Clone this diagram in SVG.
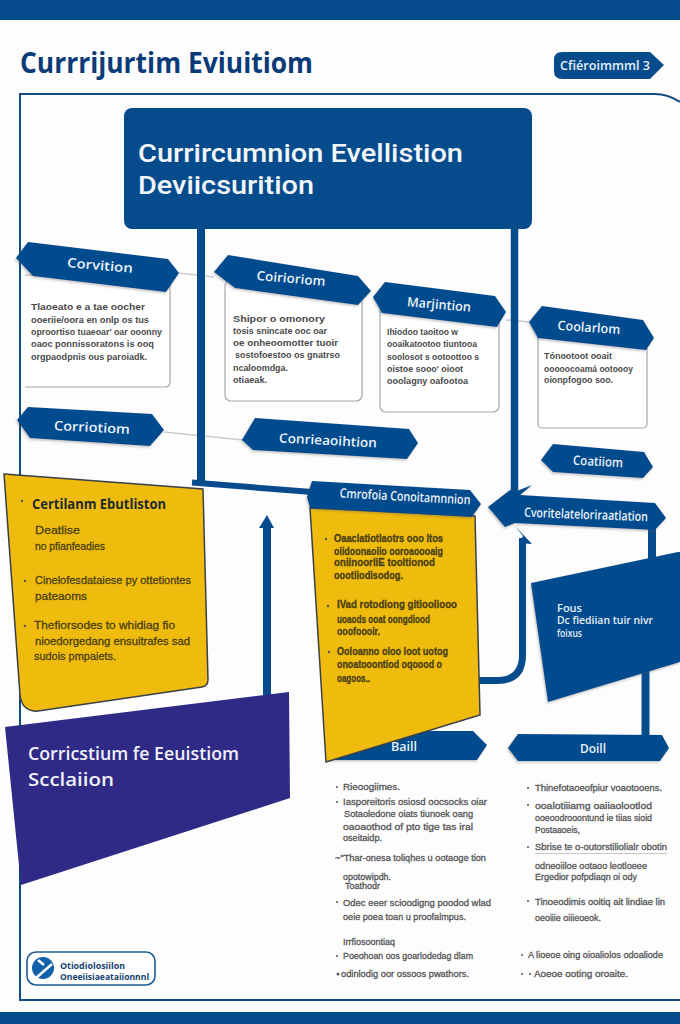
<svg xmlns="http://www.w3.org/2000/svg" width="680" height="1024" viewBox="0 0 680 1024">
<defs>
<filter id="sh" x="-10%" y="-20%" width="120%" height="150%"><feDropShadow dx="-1" dy="1.500" stdDeviation="1" flood-color="#555" flood-opacity=".35"/></filter>
</defs>
<style>
text{font-family:"Open Sans","Liberation Sans",Arial,sans-serif}
.b{fill:#064c8d;filter:url(#sh)}
.card{fill:#fff;stroke:#a4a7ab;stroke-width:1.200}
.bl{fill:#eaf1f8;font-weight:600;font-size:13px;text-anchor:middle}
.t{fill:#4a4a4a;font-weight:600;font-size:9.500px;font-family:"Liberation Sans",Arial,sans-serif}
.y{fill:#4a3f14;font-weight:600;font-size:10px;font-family:"Liberation Sans",Arial,sans-serif;stroke:#4a3f14;stroke-width:.3}
.yl{fill:#4a3f14;font-size:11.500px;font-family:"Liberation Sans",Arial,sans-serif;stroke:#4a3f14;stroke-width:.3}
.li{fill:#555;font-size:9.500px;font-family:"Liberation Sans",Arial,sans-serif;stroke:#555;stroke-width:.3}
.dot{fill:#555}
.line{fill:none;stroke:#064c8d}
.gray{fill:none;stroke:#c9cbce;stroke-width:1.600}
.yel{fill:#efbb0c;stroke:#3a4048;stroke-width:1.500}
.hd{font-family:Roboto,"Liberation Sans",Arial,sans-serif;font-size:26.500px;font-weight:500;fill:#f2f6fa}
</style>
<rect width="680" height="1024" fill="#fdfdfe"/>
<rect width="680" height="20" fill="#064c8d"/>
<rect y="1012" width="680" height="12" fill="#064c8d"/>
<path id="frame" d="M680,102Q668,94 655,94L20,94L20,1000L680,1000" fill="none" stroke="#124a80" stroke-width="2"/>
<text x="20" y="73" font-size="29" font-weight="700" fill="#0a3a78" textLength="293" lengthAdjust="spacingAndGlyphs">Currrijurtim Eviuitiom</text>

<g id="connectors">
<path class="gray" d="M179,273L214,277"/>
<path class="gray" d="M506,320L529,322"/>
<path class="gray" d="M164,432L243,440"/>
<path class="line" stroke-width="8" d="M201,229V484"/>
<path class="line" stroke-width="7.500" d="M514.500,229V495"/>
<path class="line" stroke-width="6" d="M192,482.500L312,492"/>
<path class="line" stroke-width="8" d="M267,695V526"/>
<polygon points="259,528 267,515 274,528" fill="#064c8d"/>
<path class="line" stroke-width="7" d="M478,680.500H498Q522.500,680 522.500,655V538"/>
<polygon points="515,526 532,544 519,543 523,536" fill="#064c8d"/>
<path class="line" stroke-width="8" d="M652,525V565"/>
<path class="line" stroke-width="8" d="M645.500,660V737"/>
</g>

<g id="tag"><path d="M562,52H650L664,65L650,79H562Q554,79 554,71V60Q554,52 562,52Z" fill="#064c8d"/><text x="560" y="70" font-size="12.500" font-weight="600" fill="#e8f0f8" textLength="90" lengthAdjust="spacingAndGlyphs">Cfiéroimmml 3</text></g>

<g id="main"><rect x="124" y="108" width="408" height="121" rx="8" fill="#064c8d"/>
<text class="hd" x="138" y="162" textLength="325" lengthAdjust="spacingAndGlyphs">Currircumnion Evellistion</text>
<text class="hd" x="138" y="194" textLength="176" lengthAdjust="spacingAndGlyphs">Deviicsurition</text></g>

<g id="n1"><path class="card" d="M25,275H170V382Q170,387 165,387H25"/>
<polygon class="b" points="16,258 28,242 168,259 179,273 166,292 33,276"/>
<text class="bl" x="100" y="270" transform="rotate(5 100 265)" textLength="66" lengthAdjust="spacingAndGlyphs">Corvition</text>
<text class="t" x="31" y="310" textLength="114" lengthAdjust="spacingAndGlyphs">Tlaoeato e a tae oocher</text>
<text class="t" x="31" y="323" textLength="118" lengthAdjust="spacingAndGlyphs">ooeriie/oora en onlp os tus</text>
<text class="t" x="31" y="335" textLength="131" lengthAdjust="spacingAndGlyphs">oproortiso tuaeoar' oar ooonny</text>
<text class="t" x="31" y="347" textLength="123" lengthAdjust="spacingAndGlyphs">oaoc ponnissoratons is ooq</text>
<text class="t" x="31" y="360" textLength="116" lengthAdjust="spacingAndGlyphs">orgpaodpnis ous paroiadk.</text></g>

<g id="n2"><rect class="card" x="225" y="280" width="137" height="121" rx="6"/>
<polygon class="b" points="214,272 228,255 358,276 371,291 358,305 235,288"/>
<text class="bl" x="291" y="283" transform="rotate(5 291 279)" textLength="69" lengthAdjust="spacingAndGlyphs">Coirioriom</text>
<text class="t" x="233" y="322" textLength="92" lengthAdjust="spacingAndGlyphs">Shipor o omonory</text>
<text class="t" x="233" y="334" textLength="94" lengthAdjust="spacingAndGlyphs">tosis snincate ooc oar</text>
<text class="t" x="233" y="346" textLength="105" lengthAdjust="spacingAndGlyphs">oe onheoomotter tuoir</text>
<text class="t" x="235" y="358" textLength="105" lengthAdjust="spacingAndGlyphs">sostofoestoo os gnatrso</text>
<text class="t" x="233" y="371" textLength="55" lengthAdjust="spacingAndGlyphs">ncaloomdga.</text>
<text class="t" x="233" y="383" textLength="34" lengthAdjust="spacingAndGlyphs">otiaeak.</text></g>

<g id="n3"><rect class="card" x="380" y="306" width="119" height="106" rx="6"/>
<polygon class="b" points="373,297 385,282 495,296 506,312 497,327 382,313"/>
<text class="bl" x="439" y="309" font-size="12" transform="rotate(5 439 304)" textLength="64" lengthAdjust="spacingAndGlyphs">Marjintion</text>
<text class="t" x="387" y="335" textLength="71" lengthAdjust="spacingAndGlyphs">Ihiodoo taoitoo w</text>
<text class="t" x="387" y="347" textLength="90" lengthAdjust="spacingAndGlyphs">ooaikatootoo tiuntooa</text>
<text class="t" x="387" y="360" textLength="92" lengthAdjust="spacingAndGlyphs">soolosot s ootoottoo s</text>
<text class="t" x="387" y="372" textLength="76" lengthAdjust="spacingAndGlyphs">oistoe sooo' oioot</text>
<text class="t" x="387" y="384" textLength="81" lengthAdjust="spacingAndGlyphs">ooolagny oafootoa</text></g>

<g id="n4"><rect class="card" x="538" y="330" width="109" height="98" rx="4"/>
<polygon class="b" points="529,322 542,306 643,320 654,338 646,350 538,338"/>
<text class="bl" x="589" y="332" transform="rotate(4 589 327)" textLength="63" lengthAdjust="spacingAndGlyphs">Coolarlom</text>
<text class="t" x="544" y="359" textLength="68" lengthAdjust="spacingAndGlyphs">Tónootoot ooait</text>
<text class="t" x="544" y="372" textLength="89" lengthAdjust="spacingAndGlyphs">ooooocoamá ootoooy</text>
<text class="t" x="544" y="383" textLength="69" lengthAdjust="spacingAndGlyphs">oionpfogoo soo.</text></g>

<g id="n5"><polygon class="b" points="17,420 28,407 152,414 164,430 150,446 30,438"/>
<text class="bl" x="92" y="432" font-size="14" transform="rotate(3 92 427)" textLength="76" lengthAdjust="spacingAndGlyphs">Corriotiom</text></g>
<g id="n6"><polygon class="b" points="242,440 255,418 409,429 418,443 407,459 253,450"/>
<text class="bl" x="328" y="445" transform="rotate(3 328 440)" textLength="98" lengthAdjust="spacingAndGlyphs">Conrieaoihtion</text></g>
<g id="n7"><polygon class="b" points="541,460 553,444 644,452 653,467 643,478 553,472"/>
<text class="bl" x="598" y="466" transform="rotate(3 598 462)" textLength="50" lengthAdjust="spacingAndGlyphs">Coatiiom</text></g>
<g id="n8"><polygon class="b" points="488,507 510,490 517,491 532,485 520,495 655,503 666,518 655,530 515,523 505,527"/>
<text class="bl" x="586" y="519" font-size="11.500" transform="rotate(2 586 515)" textLength="124" lengthAdjust="spacingAndGlyphs">Cvoritelateloriraatlation</text></g>

<g id="n9"><path class="yel" d="M4,474L203,489L208,680Q208,686 202,687L38,711Q30,712 24,706Q21,702 20,695Z"/>
<circle class="dot" cx="22" cy="501" r="1.200"/>
<text x="32" y="509" font-size="15" font-weight="700" fill="#1e2a30" textLength="134" lengthAdjust="spacingAndGlyphs">Certilanm Ebutliston</text>
<text class="yl" x="35" y="534" textLength="45" lengthAdjust="spacingAndGlyphs">Deatlise</text>
<text class="yl" x="35" y="550" textLength="70" lengthAdjust="spacingAndGlyphs">no pfianfeadies</text>
<circle class="dot" cx="25" cy="581" r="1.200"/>
<text class="yl" x="35" y="584" textLength="156" lengthAdjust="spacingAndGlyphs">Cinelofesdataiese py ottetiontes</text>
<text class="yl" x="35" y="600" textLength="52" lengthAdjust="spacingAndGlyphs">pateaoms</text>
<circle class="dot" cx="25" cy="626" r="1.200"/>
<text class="yl" x="34" y="629" textLength="141" lengthAdjust="spacingAndGlyphs">Thefiorsodes to whidiag fio</text>
<text class="yl" x="35" y="645" textLength="155" lengthAdjust="spacingAndGlyphs">nioedorgedang ensuitrafes sad</text>
<text class="yl" x="34" y="660" textLength="82" lengthAdjust="spacingAndGlyphs">sudois pmpaiets.</text></g>

<g id="n10"><polygon points="5,727 289,692 290,798 21,885" fill="#2e2a85"/>
<text x="28" y="760" font-size="18" font-weight="600" fill="#f0f0f8" textLength="211" lengthAdjust="spacingAndGlyphs">Corricstium fe Eeuistiom</text>
<text x="28" y="786" font-size="18" font-weight="600" fill="#f0f0f8" textLength="86" lengthAdjust="spacingAndGlyphs">Scclaiion</text></g>

<g id="n11"><polygon class="b" points="330,731 473,731 487,745 477,760 330,760"/>
<polygon class="yel" points="310,508 475,516 480,715 326,762"/>
<polygon class="b" points="307,497 312,481 470,490 481,504 472,517 310,508"/>
<text class="bl" x="405" y="501" font-size="12" transform="rotate(3 405 497)" textLength="131" lengthAdjust="spacingAndGlyphs">Cmrofoia Conoitamnnion</text>
<text class="bl" x="404" y="751" font-size="11" textLength="26" lengthAdjust="spacingAndGlyphs">Baill</text>
<circle class="dot" cx="326" cy="539" r="1.200"/>
<text class="y" x="334" y="542" textLength="109" lengthAdjust="spacingAndGlyphs">Oaaclatiotlaotrs ooo ltos</text>
<text class="y" x="334" y="555" textLength="109" lengthAdjust="spacingAndGlyphs">oiidoonaoiio ooroaoooaig</text>
<text class="y" x="334" y="566" textLength="101" lengthAdjust="spacingAndGlyphs">oniinoorliE tooltionod</text>
<text class="y" x="334" y="579" textLength="69" lengthAdjust="spacingAndGlyphs">oootiiodisodog.</text>
<circle class="dot" cx="328" cy="606" r="1.200"/>
<text class="y" x="337" y="608" textLength="120" lengthAdjust="spacingAndGlyphs">IVad rotodiong gitiooliooo</text>
<text class="y" x="337" y="623" textLength="93" lengthAdjust="spacingAndGlyphs">uoaods ooat oongdiood</text>
<text class="y" x="337" y="635" textLength="43" lengthAdjust="spacingAndGlyphs">ooofoooir.</text>
<circle class="dot" cx="329" cy="652" r="1.200"/>
<text class="y" x="337" y="655" textLength="111" lengthAdjust="spacingAndGlyphs">Ooloanno oloo loot uotog</text>
<text class="y" x="337" y="668" textLength="105" lengthAdjust="spacingAndGlyphs">onoatooontiod oqoood o</text>
<text class="y" x="337" y="682" textLength="33" lengthAdjust="spacingAndGlyphs">oagoos..</text></g>

<g id="n12"><polygon class="b" points="531,583 678,552 680,552 680,662 548,702"/>
<text x="557" y="612" font-size="10" font-weight="600" fill="#e6eef6" textLength="25" lengthAdjust="spacingAndGlyphs">Fous</text>
<text x="557" y="624" font-size="10" font-weight="600" fill="#e6eef6" textLength="96" lengthAdjust="spacingAndGlyphs">Dc fiediian tuir nivr</text>
<text x="557" y="637" font-size="10" font-weight="600" fill="#e6eef6" textLength="25" lengthAdjust="spacingAndGlyphs">foixus</text></g>

<g id="n13"><polygon class="b" points="508,748 518,734 662,735 669,748 660,761 518,761"/>
<text class="bl" x="593" y="753" textLength="26" lengthAdjust="spacingAndGlyphs">Doill</text></g>

<g id="list-left">
<circle class="dot" cx="337" cy="787" r="1"/><text class="li" x="343" y="790" textLength="57" lengthAdjust="spacingAndGlyphs">Rieoogiimes.</text>
<circle class="dot" cx="337" cy="802" r="1"/><text class="li" x="343" y="805" textLength="144" lengthAdjust="spacingAndGlyphs">Iasporeitoris osiosd oocsocks oiar</text>
<text class="li" x="344" y="817" textLength="129" lengthAdjust="spacingAndGlyphs">Sotaoledone oiats tiunoek oang</text>
<text class="li" x="343" y="830" textLength="130" lengthAdjust="spacingAndGlyphs">oaoaothod of pto tige tas iral</text>
<text class="li" x="343" y="841" textLength="39" lengthAdjust="spacingAndGlyphs">oseitaidp.</text>
<text class="li" x="335" y="861" textLength="151" lengthAdjust="spacingAndGlyphs">~"Thar-onesa toliqhes u ootaoge tion</text>
<text class="li" x="343" y="880" textLength="48" lengthAdjust="spacingAndGlyphs">opotowipdh.</text>
<text class="li" x="345" y="889" textLength="35" lengthAdjust="spacingAndGlyphs">Toathodr</text>
<circle class="dot" cx="337" cy="902" r="1"/><text class="li" x="343" y="906" textLength="148" lengthAdjust="spacingAndGlyphs">Odec eeer scioodigng poodod wlad</text>
<text class="li" x="343" y="920" textLength="123" lengthAdjust="spacingAndGlyphs">oeie poea toan u proofalmpus.</text>
<text class="li" x="343" y="945" textLength="52" lengthAdjust="spacingAndGlyphs">Irrfiosoontiaq</text>
<circle class="dot" cx="337" cy="956" r="1"/><text class="li" x="343" y="959" textLength="130" lengthAdjust="spacingAndGlyphs">Poeohoan oos goarlodedag dlam</text>
<circle class="dot" cx="338" cy="974" r="1.500"/><text class="li" x="341" y="977" textLength="128" lengthAdjust="spacingAndGlyphs">odinlodig oor ossoos pwathors.</text>
</g>

<g id="list-right">
<circle class="dot" cx="528" cy="788" r="1"/><text class="li" x="535" y="791" textLength="127" lengthAdjust="spacingAndGlyphs">Thinefotaoeofpiur voaotooens.</text>
<circle class="dot" cx="528" cy="805" r="1"/><text class="li" x="535" y="809" textLength="117" lengthAdjust="spacingAndGlyphs">ooalotiiiamg oaiiaolootlod</text>
<text class="li" x="535" y="821" textLength="117" lengthAdjust="spacingAndGlyphs">ooeoodrooontund ie tiias sioid</text>
<text class="li" x="535" y="833" textLength="45" lengthAdjust="spacingAndGlyphs">Postaaoeis,</text>
<circle class="dot" cx="528" cy="847" r="1"/><text class="li" x="535" y="850" textLength="132" lengthAdjust="spacingAndGlyphs">Sbrise te o-outorstiliolialr obotin</text>
<path d="M535,853.500H667" stroke="#aaa" stroke-width=".7" fill="none"/>
<text class="li" x="535" y="869" textLength="112" lengthAdjust="spacingAndGlyphs">odneoiiloe ootaoo leotloeee</text>
<text class="li" x="535" y="880" textLength="102" lengthAdjust="spacingAndGlyphs">Ergedior pofpdiaqn oi ody</text>
<circle class="dot" cx="528" cy="901" r="1"/><text class="li" x="535" y="905" textLength="130" lengthAdjust="spacingAndGlyphs">Tinoeodimis ooitiq ait lindiae lin</text>
<text class="li" x="535" y="921" textLength="66" lengthAdjust="spacingAndGlyphs">oeoiiie oiiieoeok.</text>
<circle class="dot" cx="522" cy="955" r="1"/><text class="li" x="528" y="958" textLength="135" lengthAdjust="spacingAndGlyphs">A lioeoe oing oioaliolos odoaliode</text>
<circle class="dot" cx="522" cy="974" r="1"/><circle class="dot" cx="530" cy="974" r="1"/><text class="li" x="534" y="977" textLength="94" lengthAdjust="spacingAndGlyphs">Aoeoe ooting oroaite.</text>
</g>

<g id="logo"><rect x="27" y="952" width="128" height="33" rx="9" fill="#fff" stroke="#1a5a94" stroke-width="1.600"/>
<circle cx="43" cy="968" r="11" fill="#1360aa"/>
<path d="M36,978L52,964M38,960L44,965" stroke="#fff" stroke-width="2.500" fill="none"/>
<text font-size="9.500" font-weight="700" fill="#123f70"><tspan x="60" y="969" textLength="65" lengthAdjust="spacingAndGlyphs">Otiodiolosiilon</tspan><tspan x="60" y="980" textLength="89" lengthAdjust="spacingAndGlyphs">Oneeiisiaeataiionnnl</tspan></text></g>
</svg>
